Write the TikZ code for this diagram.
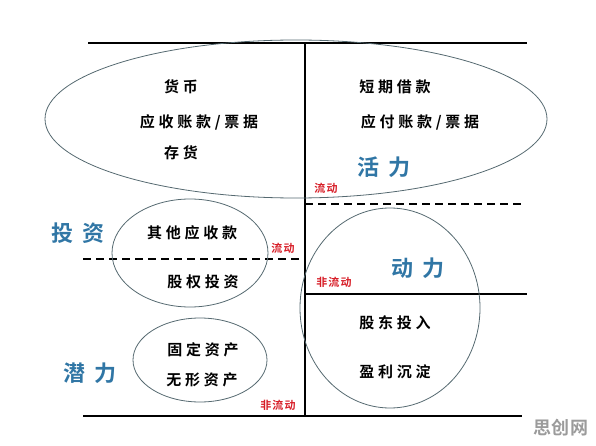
\documentclass[tikz,border=0pt]{standalone}
\usepackage{fontspec}
\newfontfamily\cjk[LetterSpace=25]{Noto Sans CJK SC Bold}
\newfontfamily\cjkwide[LetterSpace=40]{Noto Sans CJK SC Bold}
\newfontfamily\cjktight[LetterSpace=10]{Noto Sans CJK SC Bold}
\newfontfamily\cjkmark[LetterSpace=5]{Noto Sans CJK SC Bold}
\usetikzlibrary{positioning}
\definecolor{labelblue}{RGB}{48,118,165}
\definecolor{flowred}{RGB}{215,30,40}
\definecolor{rimgray}{RGB}{85,105,112}
\definecolor{markgray}{RGB}{155,155,155}
\tikzset{
  item/.style={font=\cjk\fontsize{15}{15}\selectfont, inner sep=0pt},
  tag/.style={font=\cjkwide\fontsize{22}{22}\selectfont, text=labelblue, inner sep=0pt},
  flow/.style={font=\cjktight\fontsize{11}{11}\selectfont, text=flowred, inner sep=0pt},
  rim/.style={draw=rimgray, line width=0.8pt},
  rule/.style={black, line width=1.6pt},
  dashrule/.style={black, line width=1.6pt, dash pattern=on 8pt off 5pt}
}
\begin{document}
\begin{tikzpicture}[x=1pt,y=-1pt]
\useasboundingbox (0,0) rectangle (596,446);

% frame lines
\draw [rule] (88,43) -- (527,43);
\draw [rule] (305,43) -- (305,416);
\draw [rule] (83,416) -- (522,416);
\draw [rule] (305,294) -- (527,294);
\draw [dashrule] (305,204) -- (523,204);
\draw [dashrule] (83,259) -- (305,259);

% ellipses
\draw [rim] (296,119) ellipse (251pt and 79pt);
\draw [rim] (190,253) ellipse (78pt and 54pt);
\draw [rim] (200,360) ellipse (67pt and 42pt);
\draw [rim] (390,308) ellipse (90pt and 100pt);

% current assets / liabilities
\node [item] (cash) at (181,87) {货币};
\node [item] (recv) at (199,122) {应收账款/票据};
\node [item] (stock) at (181,153) {存货};
\node [item] (loan) at (395,87) {短期借款};
\node [item] (pay) at (420,122) {应付账款/票据};

% investment block
\node [item] (other) at (192,233) {其他应收款};
\node [item] (equity) at (203,282) {股权投资};
\node [item] (fixed) at (203,350) {固定资产};
\node [item] (intang) at (202,380) {无形资产};

% equity block
\node [item] (holder) at (395,323) {股东投入};
\node [item] (profit) at (395,372) {盈利沉淀};

% blue tags
\node [tag] (vigor) at (384,167) {活力};
\node [tag] (invest) at (78,233) {投资};
\node [tag] (latent) at (90,373) {潜力};
\node [tag] (drive) at (418,268) {动力};

% red flow marks
\node [flow] (flowA) at (326,188) {流动};
\node [flow] (flowB) at (283,248) {流动};
\node [flow] (nflowA) at (334,282) {非流动};
\node [flow] (nflowB) at (278,405) {非流动};

\node [font=\cjkmark\fontsize{18}{18}\selectfont, text=markgray, inner sep=0pt] (mark) at (561,428) {思创网};
\end{tikzpicture}
\end{document}
